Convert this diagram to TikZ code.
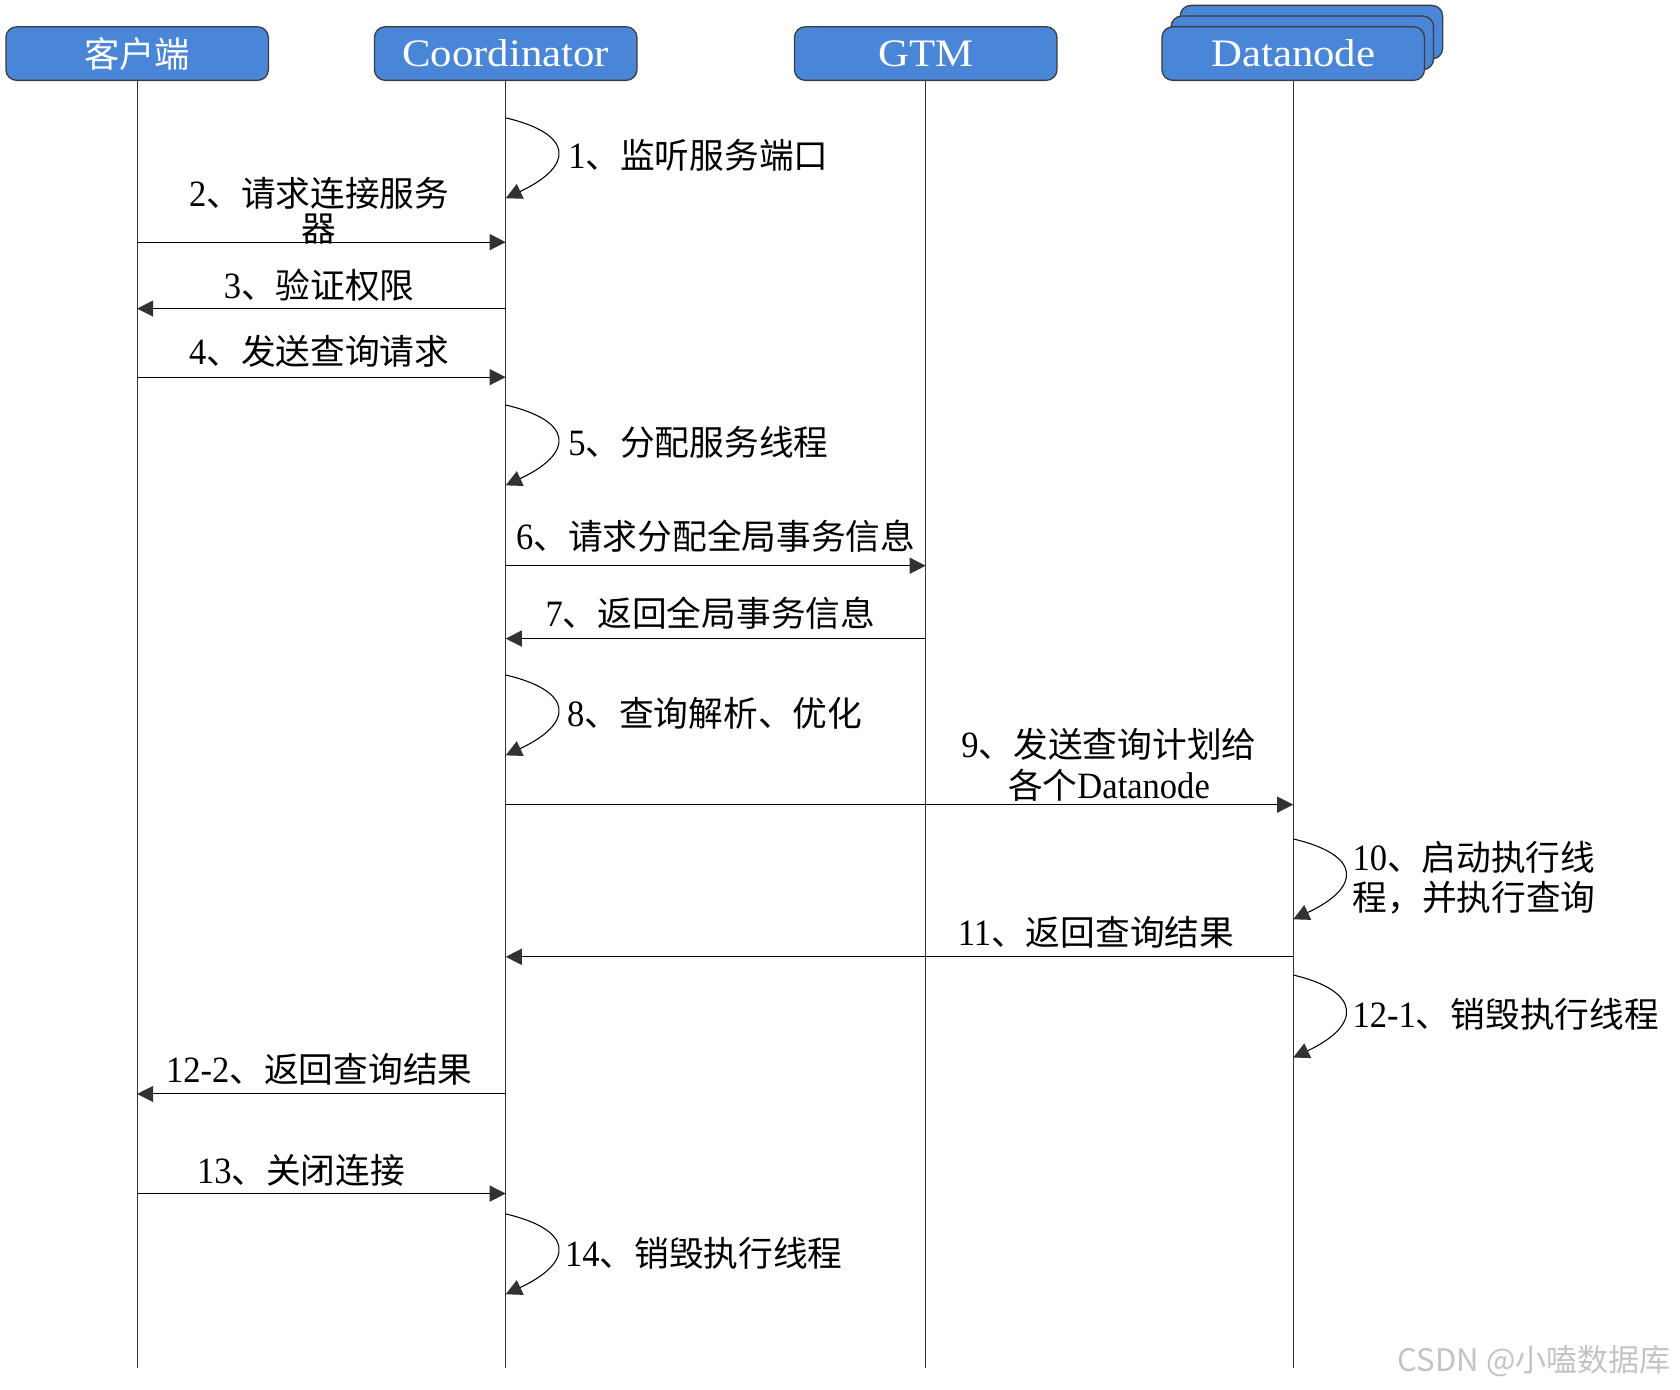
\documentclass[tikz,border=0pt]{standalone}
\usepackage{fontspec}
\setmainfont{Noto Sans CJK SC}
\newfontfamily\lt[Scale=1.07,FakeStretch=0.93]{Liberation Serif}
\newfontfamily\lth[Scale=1.1,FakeStretch=1.1]{Liberation Serif}
\newfontfamily\wmfont{Noto Sans CJK SC}
\usetikzlibrary{arrows.meta}
\definecolor{hdrblue}{RGB}{74,134,216}
\definecolor{hdrline}{RGB}{60,60,60}
\definecolor{tipgray}{RGB}{50,50,50}
\definecolor{wmgray}{RGB}{195,195,195}
\begin{document}
\begin{tikzpicture}[x=0.5pt,y=-0.5pt,
  hdr/.style={draw=hdrline, line width=0.6pt, fill=hdrblue, rounded corners=5pt,
    minimum width=122.5pt, minimum height=25pt, inner sep=0pt, text=white,
    font=\fontsize{16.5}{18}\selectfont},
  life/.style={draw=black!80, line width=0.5pt},
  msg/.style={draw=black, line width=0.5pt, -{Triangle[length=7.5pt,width=7.5pt,color=tipgray]}},
  lbl/.style={inner sep=0pt, font=\fontsize{16.2}{18.5}\selectfont},
  wm/.style={inner sep=0pt, text=wmgray, font=\wmfont\fontsize{14.5}{16}\selectfont}
]
\useasboundingbox (0,0) rectangle (1568,1297);

% headers
\node[hdr] (client) at (128,50) {客户端};
\node[hdr] (coord) at (472,50) {\lth Coordinator};
\node[hdr] (gtm) at (864,50) {\lth GTM};
\node[hdr] (dnback) at (1224,30) {};
\node[hdr] (dnmid) at (1215.5,40) {};
\node[hdr] (dn) at (1207,50) {\lth Datanode};

% lifelines
\coordinate (clientEnd) at (128,1277);
\coordinate (coordEnd) at (472,1277);
\coordinate (gtmEnd) at (864,1277);
\coordinate (dnEnd) at (1207,1277);
\draw[life] (client.south) -- (clientEnd);
\draw[life] (coord.south) -- (coordEnd);
\draw[life] (gtm.south) -- (gtmEnd);
\draw[life] (dn.south) -- (dnEnd);

% self messages
\draw[msg] (coord |- 0,110) .. controls +(64,15) and +(64,-30) .. (coord |- 0,185);
\draw[msg] (coord |- 0,378) .. controls +(64,15) and +(64,-30) .. (coord |- 0,453);
\draw[msg] (coord |- 0,630) .. controls +(64,15) and +(64,-30) .. (coord |- 0,705);
\draw[msg] (dn |- 0,783) .. controls +(64,15) and +(64,-30) .. (dn |- 0,858);
\draw[msg] (dn |- 0,910) .. controls +(64,15) and +(64,-30) .. (dn |- 0,987);
\draw[msg] (coord |- 0,1133) .. controls +(64,15) and +(64,-30) .. (coord |- 0,1208);

% messages
\draw[msg] (client |- 0,226) -- (coord |- 0,226);
\draw[msg] (coord |- 0,288) -- (client |- 0,288);
\draw[msg] (client |- 0,352) -- (coord |- 0,352);
\draw[msg] (coord |- 0,528) -- (gtm |- 0,528);
\draw[msg] (gtm |- 0,596) -- (coord |- 0,596);
\draw[msg] (coord |- 0,751) -- (dn |- 0,751);
\draw[msg] (dn |- 0,893) -- (coord |- 0,893);
\draw[msg] (coord |- 0,1021) -- (client |- 0,1021);
\draw[msg] (client |- 0,1114) -- (coord |- 0,1114);

% labels
\node[lbl, anchor=west] (l1) at (530,145) {{\lt 1}、监听服务端口};
\node[lbl, align=center] (l2) at (298,197) {{\lt 2}、请求连接服务\\[-2pt]器};
\node[lbl] (l3) at (298,266) {{\lt 3}、验证权限};
\node[lbl] (l4) at (298,328) {{\lt 4}、发送查询请求};
\node[lbl, anchor=west] (l5) at (530,413) {{\lt 5}、分配服务线程};
\node[lbl] (l6) at (668,500) {{\lt 6}、请求分配全局事务信息};
\node[lbl] (l7) at (663,572) {{\lt 7}、返回全局事务信息};
\node[lbl, anchor=west] (l8) at (529,666) {{\lt 8}、查询解析、优化};
\node[lbl, align=center] (l9) at (1035,714) {{\lt 9}、发送查询计划给\\[0.5pt]各个{\lt Datanode}};
\node[lbl, anchor=west, align=left] (l10) at (1262,819) {{\lt 10}、启动执行线\\程，并执行查询};
\node[lbl] (l11) at (1023,870) {{\lt 11}、返回查询结果};
\node[lbl, anchor=west] (l121) at (1262,947) {{\lt 12-1}、销毁执行线程};
\node[lbl] (l122) at (298,998) {{\lt 12-2}、返回查询结果};
\node[lbl] (l13) at (281,1092) {{\lt 13}、关闭连接};
\node[lbl, anchor=west] (l14) at (527,1170) {{\lt 14}、销毁执行线程};

% watermark
\node[wm] (wmark) at (1432,1270) {CSDN @小嗑数据库};
\end{tikzpicture}
\end{document}
